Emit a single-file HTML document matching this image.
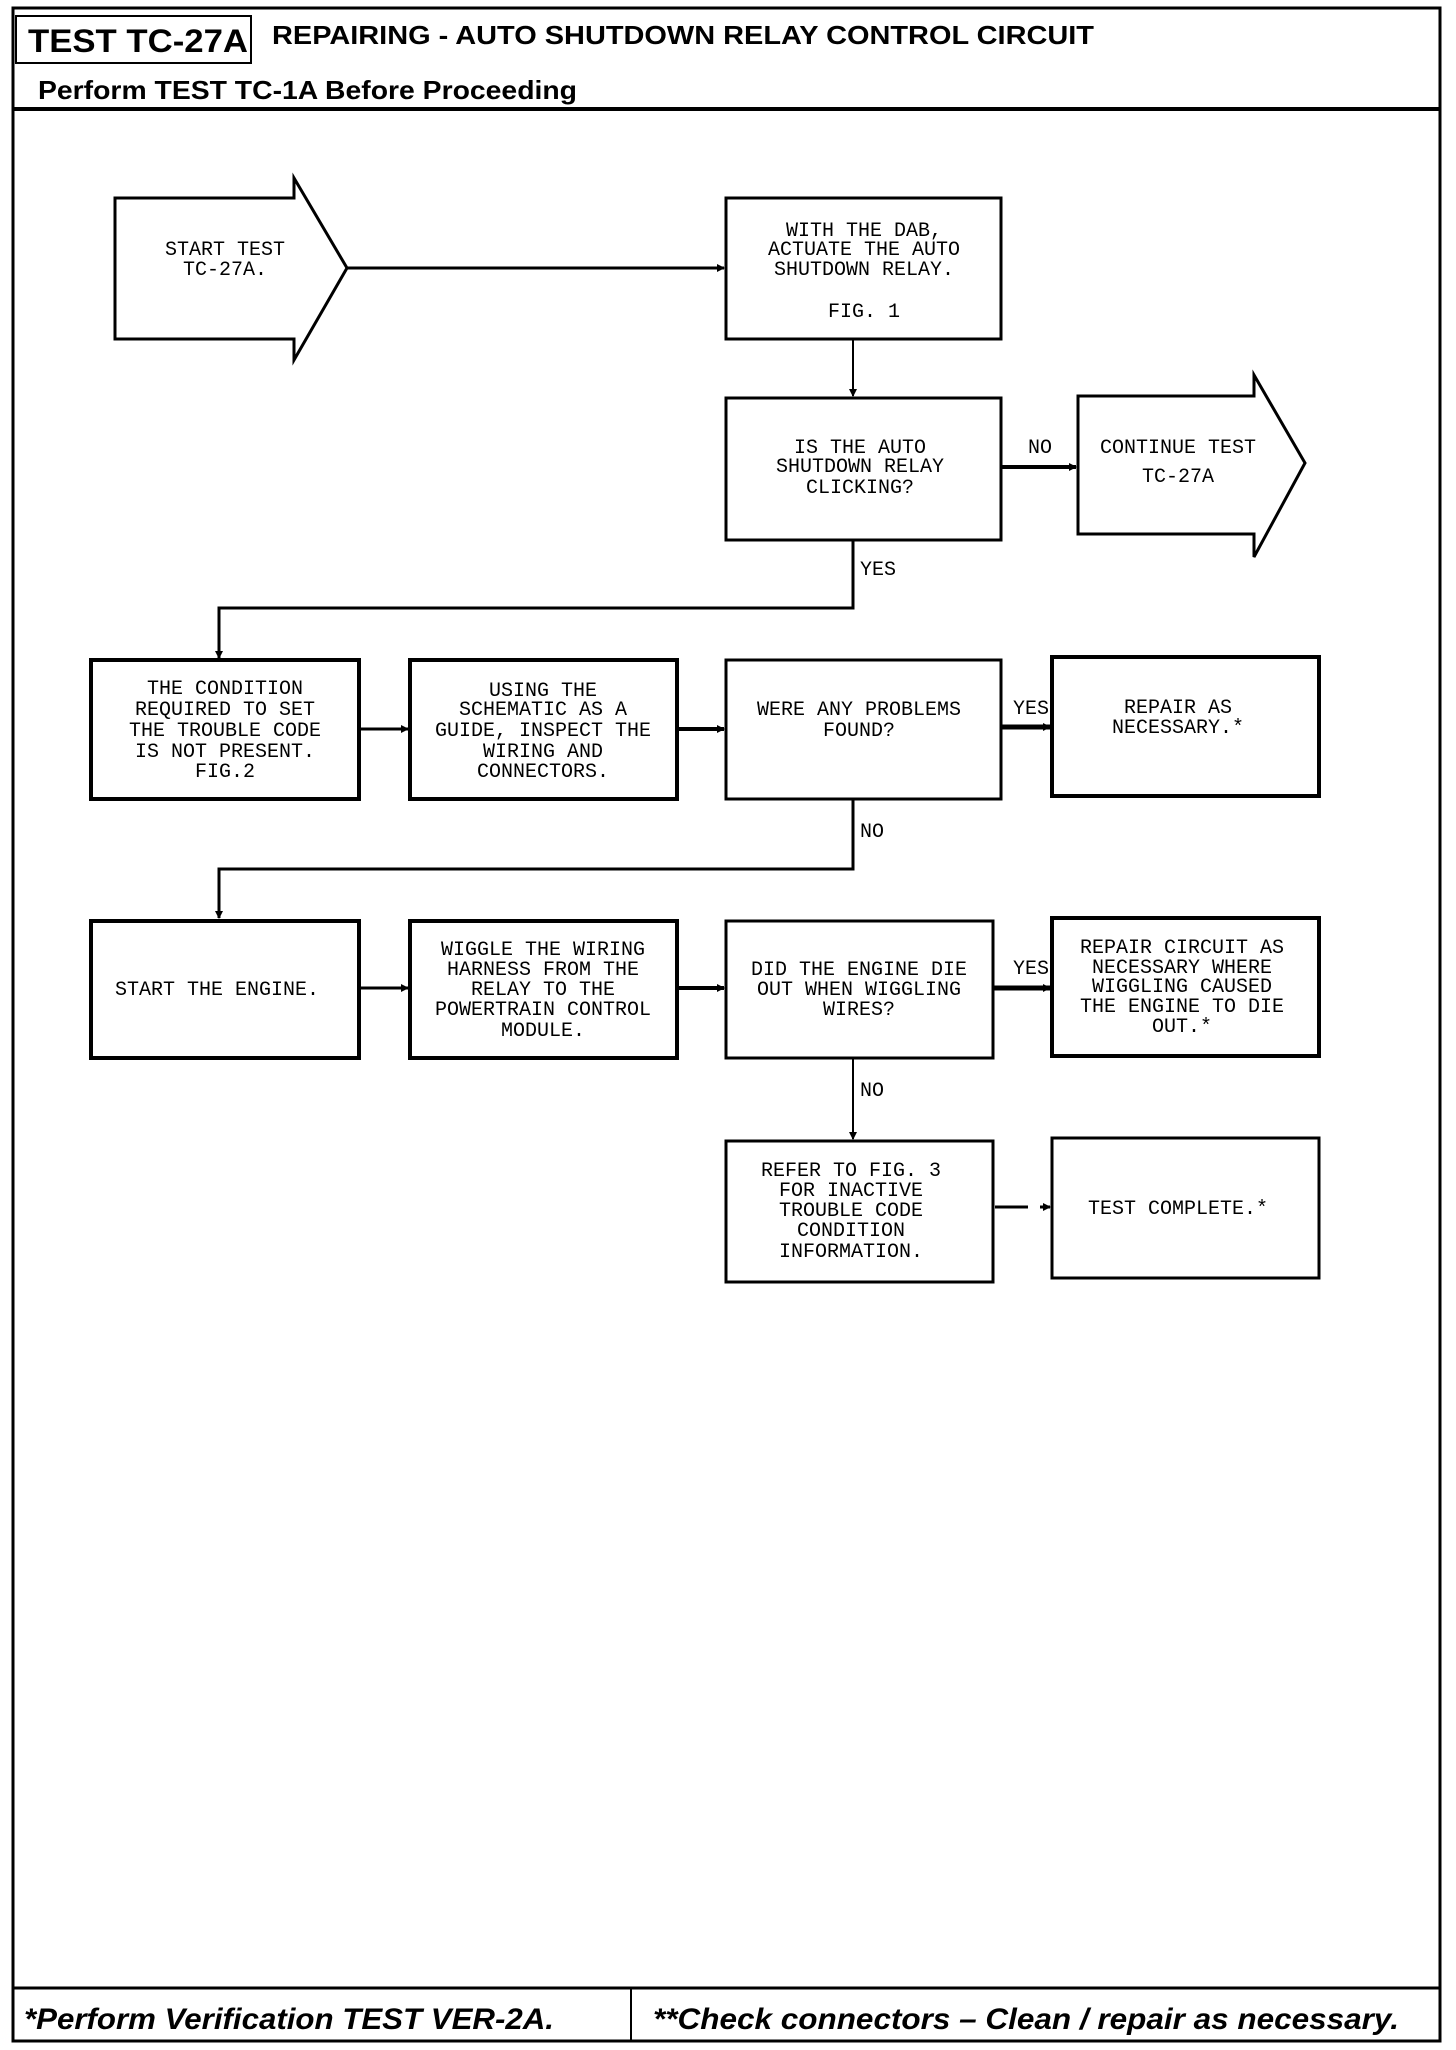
<!DOCTYPE html>
<html><head><meta charset="utf-8"><style>
html,body{margin:0;padding:0;background:#fff;}
svg{display:block;}
.t{font-family:"Liberation Mono",monospace;font-size:20px;fill:#000;text-anchor:middle;}
.h{font-family:"Liberation Sans",sans-serif;font-weight:bold;fill:#000;}
</style></head><body>
<svg width="1456" height="2050" viewBox="0 0 1456 2050" xmlns="http://www.w3.org/2000/svg">
<defs><marker id="a" markerWidth="8" markerHeight="8" refX="7" refY="4" orient="auto" markerUnits="userSpaceOnUse"><path d="M0,0 L8,4 L0,8 z" fill="#000"/></marker></defs>
<g fill="none" stroke="#000">
<rect x="13" y="8" width="1427" height="2033" stroke-width="3"/>
<rect x="16" y="16" width="235" height="47" stroke-width="2"/>
<line x1="13" y1="109" x2="1440" y2="109" stroke-width="4"/>
<line x1="13" y1="1988" x2="1440" y2="1988" stroke-width="3"/>
<line x1="631" y1="1988" x2="631" y2="2041" stroke-width="2"/>

<path d="M115,198 H294 V178 L347,268 L294,360 V339 H115 Z" stroke-width="3"/>
<rect x="726" y="198" width="275" height="141" stroke-width="3"/>
<line x1="347" y1="268" x2="724" y2="268" stroke-width="3" marker-end="url(#a)"/>
<line x1="853" y1="339" x2="853" y2="396" stroke-width="2" marker-end="url(#a)"/>
<rect x="726" y="398" width="275" height="142" stroke-width="3"/>
<line x1="1001" y1="467" x2="1076" y2="467" stroke-width="4" marker-end="url(#a)"/>
<path d="M1078,396 H1254 V375 L1305,463 L1254,557 V534 H1078 Z" stroke-width="3"/>
<path d="M853,540 V608 H219 V658" stroke-width="3" marker-end="url(#a)"/>

<rect x="91" y="660" width="268" height="139" stroke-width="4"/>
<rect x="410" y="660" width="267" height="139" stroke-width="4"/>
<rect x="726" y="660" width="275" height="139" stroke-width="3"/>
<rect x="1052" y="657" width="267" height="139" stroke-width="4"/>
<line x1="359" y1="729" x2="408" y2="729" stroke-width="3" marker-end="url(#a)"/>
<line x1="677" y1="729" x2="724" y2="729" stroke-width="4" marker-end="url(#a)"/>
<line x1="1001" y1="727" x2="1050" y2="727" stroke-width="5" marker-end="url(#a)"/>
<path d="M853,799 V869 H219 V918" stroke-width="3" marker-end="url(#a)"/>

<rect x="91" y="921" width="268" height="137" stroke-width="4"/>
<rect x="410" y="921" width="267" height="137" stroke-width="4"/>
<rect x="726" y="921" width="267" height="137" stroke-width="3"/>
<rect x="1052" y="918" width="267" height="138" stroke-width="4"/>
<line x1="359" y1="988" x2="408" y2="988" stroke-width="3" marker-end="url(#a)"/>
<line x1="677" y1="988" x2="724" y2="988" stroke-width="4" marker-end="url(#a)"/>
<line x1="993" y1="988" x2="1050" y2="988" stroke-width="5" marker-end="url(#a)"/>
<line x1="853" y1="1058" x2="853" y2="1139" stroke-width="2" marker-end="url(#a)"/>

<rect x="726" y="1141" width="267" height="141" stroke-width="3"/>
<rect x="1052" y="1138" width="267" height="140" stroke-width="3"/>
<line x1="995" y1="1207" x2="1028" y2="1207" stroke-width="3"/>
<line x1="1040" y1="1207" x2="1050" y2="1207" stroke-width="3" marker-end="url(#a)"/>
</g>

<text class="h" x="28" y="52" font-size="32" textLength="220" lengthAdjust="spacingAndGlyphs">TEST TC-27A</text>
<text class="h" x="272" y="44" font-size="26" textLength="822" lengthAdjust="spacingAndGlyphs">REPAIRING - AUTO SHUTDOWN RELAY CONTROL CIRCUIT</text>
<text class="h" x="38" y="99" font-size="26" textLength="539" lengthAdjust="spacingAndGlyphs">Perform TEST TC-1A Before Proceeding</text>
<text class="h" x="24" y="2029" font-size="30" font-style="italic" textLength="530" lengthAdjust="spacingAndGlyphs">*Perform Verification TEST VER-2A.</text>
<text class="h" x="653" y="2029" font-size="30" font-style="italic" textLength="746" lengthAdjust="spacingAndGlyphs">**Check connectors – Clean / repair as necessary.</text>

<g class="t">
<text x="225" y="255">START TEST</text><text x="225" y="275">TC-27A.</text>
<text x="864" y="236">WITH THE  DAB,</text><text x="864" y="255">ACTUATE THE AUTO</text><text x="864" y="275">SHUTDOWN RELAY.</text><text x="864" y="317">FIG. 1</text>
<text x="860" y="453">IS THE AUTO</text><text x="860" y="472">SHUTDOWN RELAY</text><text x="860" y="493">CLICKING?</text>
<text x="1178" y="453">CONTINUE TEST</text><text x="1178" y="482">TC-27A</text>
<text x="1028" y="453" style="text-anchor:start">NO</text>
<text x="860" y="575" style="text-anchor:start">YES</text>

<text x="225" y="694">THE CONDITION</text><text x="225" y="715">REQUIRED TO SET</text><text x="225" y="736">THE TROUBLE CODE</text><text x="225" y="757">IS NOT PRESENT.</text><text x="225" y="777">FIG.2</text>
<text x="543" y="696">USING THE</text><text x="543" y="715">SCHEMATIC AS A</text><text x="543" y="736">GUIDE, INSPECT THE</text><text x="543" y="757">WIRING AND</text><text x="543" y="777">CONNECTORS.</text>
<text x="859" y="715">WERE ANY PROBLEMS</text><text x="859" y="736">FOUND?</text>
<text x="1178" y="713">REPAIR AS</text><text x="1178" y="733">NECESSARY.*</text>
<text x="1013" y="714" style="text-anchor:start">YES</text>
<text x="860" y="837" style="text-anchor:start">NO</text>

<text x="217" y="995">START THE ENGINE.</text>
<text x="543" y="955">WIGGLE THE WIRING</text><text x="543" y="975">HARNESS FROM THE</text><text x="543" y="995">RELAY TO THE</text><text x="543" y="1015">POWERTRAIN CONTROL</text><text x="543" y="1036">MODULE.</text>
<text x="859" y="975">DID THE ENGINE DIE</text><text x="859" y="995">OUT WHEN WIGGLING</text><text x="859" y="1015">WIRES?</text>
<text x="1182" y="953">REPAIR CIRCUIT AS</text><text x="1182" y="973">NECESSARY WHERE</text><text x="1182" y="992">WIGGLING CAUSED</text><text x="1182" y="1012">THE ENGINE TO DIE</text><text x="1182" y="1032">OUT.*</text>
<text x="1013" y="974" style="text-anchor:start">YES</text>
<text x="860" y="1096" style="text-anchor:start">NO</text>

<text x="851" y="1176">REFER TO FIG. 3</text><text x="851" y="1196">FOR INACTIVE</text><text x="851" y="1216">TROUBLE CODE</text><text x="851" y="1236">CONDITION</text><text x="851" y="1257">INFORMATION.</text>
<text x="1178" y="1214">TEST COMPLETE.*</text>
</g>
</svg>
</body></html>
